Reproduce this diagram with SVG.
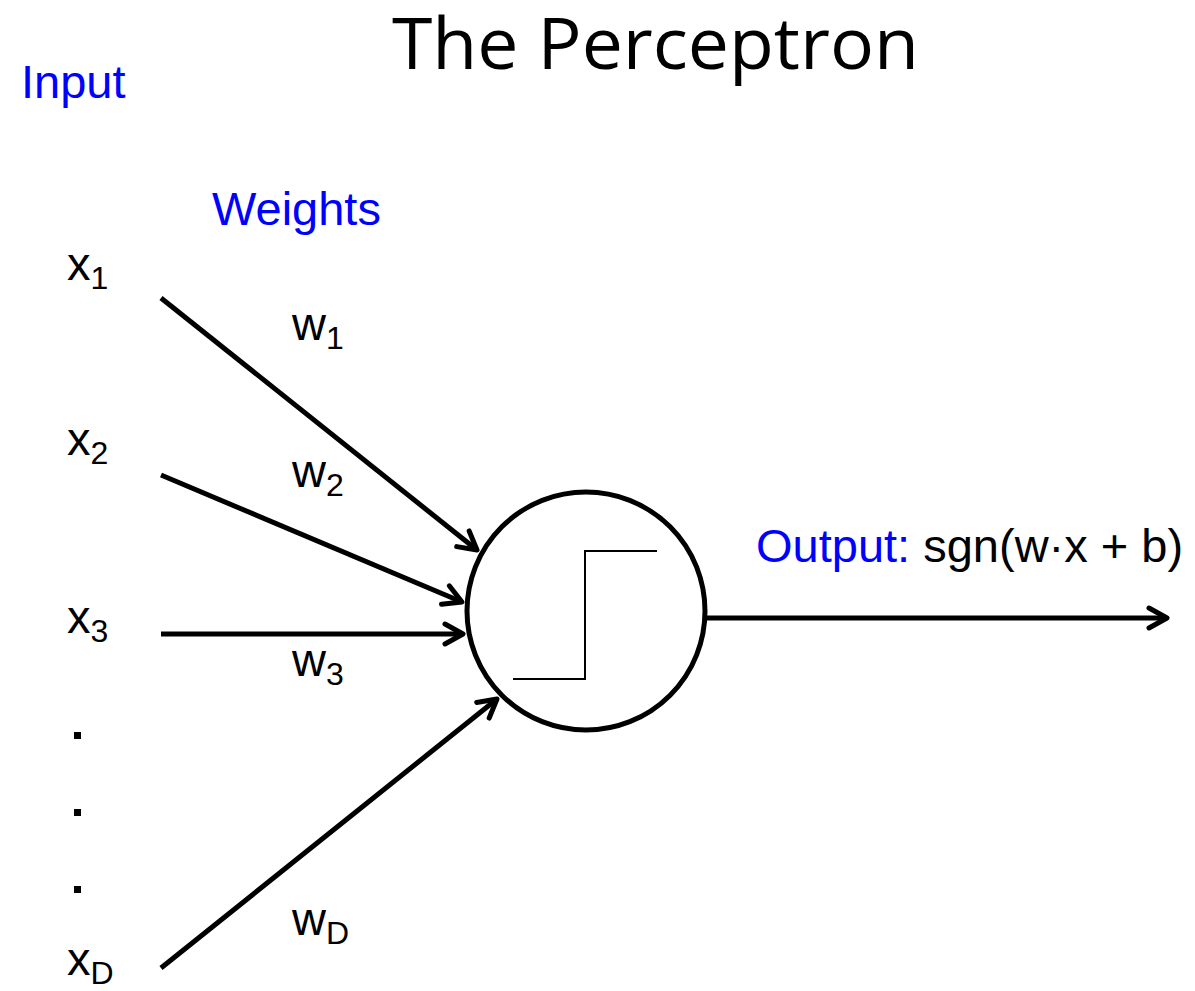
<svg xmlns="http://www.w3.org/2000/svg" width="1195" height="991" viewBox="0 0 1195 991">
<style>
.t{font-family:"Liberation Sans",Arial,sans-serif;font-size:47px;fill:#000}
.b{fill:#0000ff}
.sub{font-size:32px}
.title{font-family:"Open Sans","Noto Sans",sans-serif;font-size:72px;fill:#000}
.c{stroke:#000;stroke-width:5;fill:none;stroke-linecap:butt}
</style>
<defs>
<marker id="ah" markerUnits="userSpaceOnUse" markerWidth="30" markerHeight="30" refX="22" refY="12" orient="auto" viewBox="0 0 30 24">
<path d="M4,2 L22,12 L4,22" fill="none" stroke="#000" stroke-width="5" stroke-linecap="round" stroke-linejoin="round"/>
</marker>
</defs>
<rect width="1195" height="991" fill="#fff"/>
<text class="title" x="392" y="69" textLength="527" lengthAdjust="spacingAndGlyphs">The Perceptron</text>
<text class="t b" x="21" y="98">Input</text>
<text class="t b" x="212" y="225">Weights</text>
<g id="connectors">
<line class="c" x1="161" y1="298" x2="477" y2="550" marker-end="url(#ah)"/>
<line class="c" x1="161" y1="475" x2="462" y2="602" marker-end="url(#ah)"/>
<line class="c" x1="161" y1="634" x2="463" y2="634" marker-end="url(#ah)"/>
<line class="c" x1="161" y1="968" x2="497" y2="699" marker-end="url(#ah)"/>
<line class="c" x1="706" y1="618" x2="1167" y2="618" marker-end="url(#ah)"/>
</g>
<g id="neuron">
<circle cx="586" cy="611" r="119" fill="#fff" stroke="#000" stroke-width="5"/>
<polyline points="513,679 585,679 585,551 657,551" fill="none" stroke="#000" stroke-width="2"/>
</g>
<g id="inputs">
<text class="t" x="67" y="280">x<tspan class="sub" dy="9">1</tspan></text>
<text class="t" x="67" y="455">x<tspan class="sub" dy="9">2</tspan></text>
<text class="t" x="67" y="633">x<tspan class="sub" dy="9">3</tspan></text>
<rect x="74" y="732" width="7" height="7"/>
<rect x="74" y="809" width="7" height="7"/>
<rect x="74" y="886" width="7" height="7"/>
<text class="t" x="67" y="975">x<tspan class="sub" dy="9">D</tspan></text>
</g>
<g id="weights">
<text class="t" x="292" y="340">w<tspan class="sub" dy="9">1</tspan></text>
<text class="t" x="292" y="487">w<tspan class="sub" dy="9">2</tspan></text>
<text class="t" x="292" y="676">w<tspan class="sub" dy="9">3</tspan></text>
<text class="t" x="292" y="935">w<tspan class="sub" dy="9">D</tspan></text>
</g>
<g id="output">
<text class="t" x="756" y="562"><tspan class="b">Output:</tspan> sgn(w·x + b)</text>
</g>
</svg>
